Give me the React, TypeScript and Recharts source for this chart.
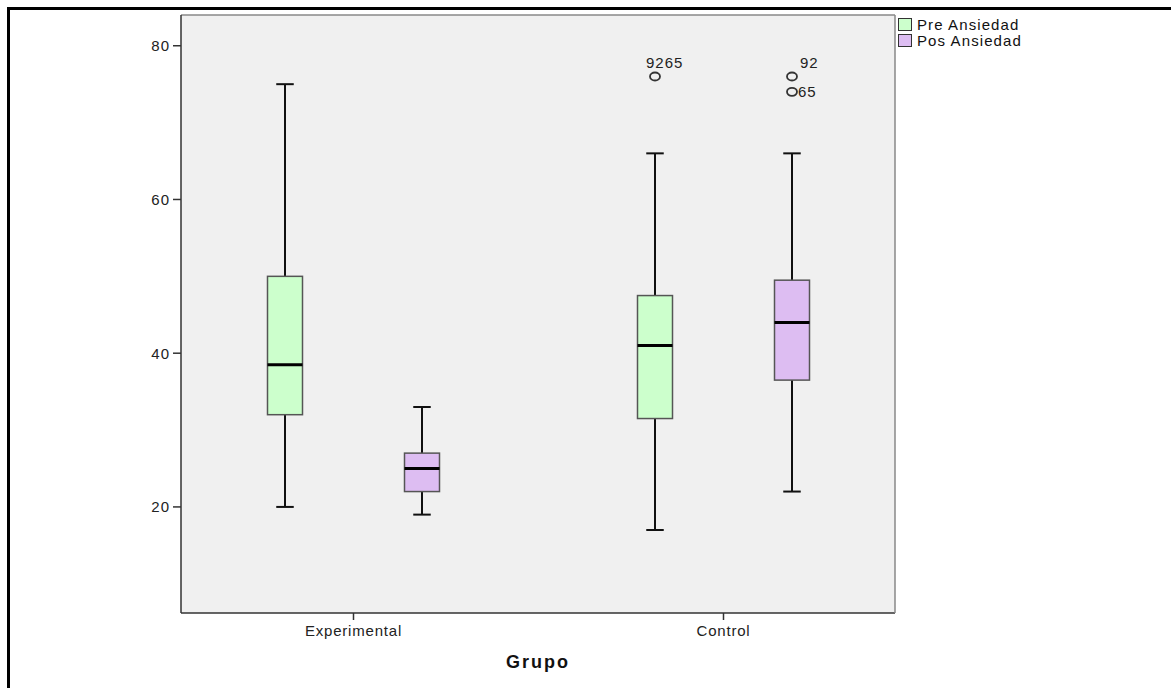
import React from "react";
import { ComposedChart, Bar, XAxis, YAxis, CartesianGrid, Legend } from "recharts";

const FONT = '"Liberation Sans", Arial, sans-serif';

const groups = ["Experimental", "Control"];

const preAnsiedad = [
  { min: 20, q1: 32, median: 38.5, q3: 50, max: 75 },
  { min: 17, q1: 31.5, median: 41, q3: 47.5, max: 66 },
];
const posAnsiedad = [
  { min: 19, q1: 22, median: 25, q3: 27, max: 33 },
  { min: 22, q1: 36.5, median: 44, q3: 49.5, max: 66 },
];

// outliers per group (value + case id)
const preOutliers = [[], [{ value: 76, id: "92" }, { value: 76, id: "65" }]];
const posOutliers = [[], [{ value: 76, id: "92" }, { value: 74, id: "65" }]];

const yTicks = [20, 40, 60, 80];

const series = [
  { key: "pre", name: "Pre Ansiedad", color: "#ccffcc", stats: preAnsiedad, outliers: preOutliers },
  { key: "pos", name: "Pos Ansiedad", color: "#ddbdf2", stats: posAnsiedad, outliers: posOutliers },
];

const rows = groups.map((g, i) => {
  const row: any = { group: g, frame: 1 };
  series.forEach((s) => {
    const st = s.stats[i];
    row[s.key] = st;
    row[s.key + "Out"] = s.outliers[i];
    row[s.key + "Base"] = st.q1;
    row[s.key + "Box"] = st.q3 - st.q1;
  });
  return row;
});

const makeBoxShape = (key: string, color: string) => (props: any) => {
  const { x, y, width, height, payload } = props;
  const st = payload[key];
  const outs = payload[key + "Out"] || [];
  const k = height / (st.q3 - st.q1);
  const toY = (v: number) => y + height - (v - st.q1) * k;
  const cx = x + width / 2;
  const cap = width / 4;

  // group outliers that share a value so their labels run together
  const byValue: { value: number; ids: string[] }[] = [];
  outs.forEach((o: any) => {
    const g = byValue.find((b) => b.value === o.value);
    if (g) g.ids.push(o.id);
    else byValue.push({ value: o.value, ids: [o.id] });
  });
  byValue.sort((a, b) => b.value - a.value);

  return (
    <g>
      <line x1={cx} x2={cx} y1={toY(st.max)} y2={toY(st.q3)} stroke="#111" strokeWidth={2} />
      <line x1={cx} x2={cx} y1={toY(st.q1)} y2={toY(st.min)} stroke="#111" strokeWidth={2} />
      <line x1={cx - cap} x2={cx + cap} y1={toY(st.max)} y2={toY(st.max)} stroke="#111" strokeWidth={2} />
      <line x1={cx - cap} x2={cx + cap} y1={toY(st.min)} y2={toY(st.min)} stroke="#111" strokeWidth={2} />
      <rect x={x} y={y} width={width} height={height} fill={color} stroke="#555" strokeWidth={1.5} />
      <line x1={x} x2={x + width} y1={toY(st.median)} y2={toY(st.median)} stroke="#000" strokeWidth={3} />
      {byValue.map((b, i) => {
        const cy = toY(b.value);
        const lx = i === 0 ? (b.ids.length > 1 ? cx - 9 : cx + 8) : cx + 6;
        const ly = i === 0 ? cy - 8 : cy + 5;
        return (
          <g key={i}>
            <ellipse cx={cx} cy={cy} rx={5} ry={4} fill="none" stroke="#333" strokeWidth={1.8} />
            <text x={lx} y={ly} fontSize={15} fontFamily={FONT} fill="#222" style={{ letterSpacing: 1 }}>
              {b.ids.join("")}
            </text>
          </g>
        );
      })}
    </g>
  );
};

const XTick = (props: any) => {
  const { x, y, payload } = props;
  return (
    <text x={x} y={y} dy="0.71em" textAnchor="middle" fontSize={15} fontFamily={FONT} fill="#222" style={{ letterSpacing: 0.8 }}>
      {payload.value}
    </text>
  );
};

const YTick = (props: any) => {
  const { x, y, payload } = props;
  return (
    <text x={x} y={y} dy="0.355em" textAnchor="end" fontSize={15} fontFamily={FONT} fill="#222" style={{ letterSpacing: 1 }}>
      {payload.value}
    </text>
  );
};

const LegendBox = () => (
  <div style={{ fontFamily: FONT, fontSize: 15, color: "#111", letterSpacing: 1.1 }}>
    {series.map((s) => (
      <div key={s.key} style={{ display: "flex", alignItems: "center", height: 16.5 }}>
        <span
          style={{
            display: "inline-block",
            width: 12,
            height: 11,
            background: s.color,
            border: "1.5px solid #333",
            marginRight: 5,
          }}
        />
        <span>{s.name}</span>
      </div>
    ))}
  </div>
);

export default function App() {
  return (
    <div style={{ position: "absolute", left: 0, top: 0, width: 1171, height: 688, background: "#fff", overflow: "hidden" }}>
      <div
        style={{
          position: "absolute",
          left: 7,
          top: 7,
          width: 1200,
          height: 700,
          borderTop: "3px solid #000",
          borderLeft: "3px solid #000",
        }}
      />
      <div style={{ position: "absolute", left: 0, top: 0 }}>
        <ComposedChart
          width={1171}
          height={688}
          data={rows}
          margin={{ top: 14, right: 275, bottom: 45, left: 121 }}
          barGap={102}
          barSize={35}
        >
          <CartesianGrid fill="#f0f0f0" horizontal={false} vertical={false} />
          <XAxis
            dataKey="group"
            padding={{ left: -12.5, right: -13.5 }}
            height={30}
            tickSize={7}
            tickMargin={5}
            tick={<XTick />}
            axisLine={{ stroke: "#333", strokeWidth: 1.5 }}
            tickLine={{ stroke: "#333", strokeWidth: 1.5 }}
            label={{ value: "Grupo", position: "bottom", offset: 12, fontSize: 18, fontWeight: "bold", fontFamily: FONT, fill: "#111", style: { letterSpacing: 2 } }}
          />
          <XAxis
            xAxisId="top"
            orientation="top"
            dataKey="group"
            height={1}
            tick={false}
            tickLine={false}
            axisLine={{ stroke: "#888", strokeWidth: 1.5 }}
          />
          <YAxis
            type="number"
            domain={[6.2, 84]}
            allowDataOverflow
            ticks={yTicks}
            width={60}
            tickSize={8}
            tickMargin={3}
            tick={<YTick />}
            axisLine={{ stroke: "#333", strokeWidth: 1.5 }}
            tickLine={{ stroke: "#333", strokeWidth: 1.5 }}
          />
          <YAxis
            yAxisId="right"
            orientation="right"
            type="number"
            dataKey="frame"
            domain={[0, 1]}
            width={1}
            tick={false}
            tickLine={false}
            axisLine={{ stroke: "#888", strokeWidth: 1.5 }}
          />
          <Legend
            layout="horizontal"
            verticalAlign="middle"
            align="center"
            content={() => <LegendBox />}
            wrapperStyle={{ left: 898, top: 16, width: 200 }}
          />
          {series.map((s) => [
            <Bar key={s.key + "Base"} dataKey={s.key + "Base"} stackId={s.key} fill="none" legendType="none" isAnimationActive={false} />,
            <Bar
              key={s.key + "Box"}
              dataKey={s.key + "Box"}
              name={s.name}
              stackId={s.key}
              fill={s.color}
              shape={makeBoxShape(s.key, s.color)}
              isAnimationActive={false}
            />,
          ])}
        </ComposedChart>
      </div>
    </div>
  );
}
